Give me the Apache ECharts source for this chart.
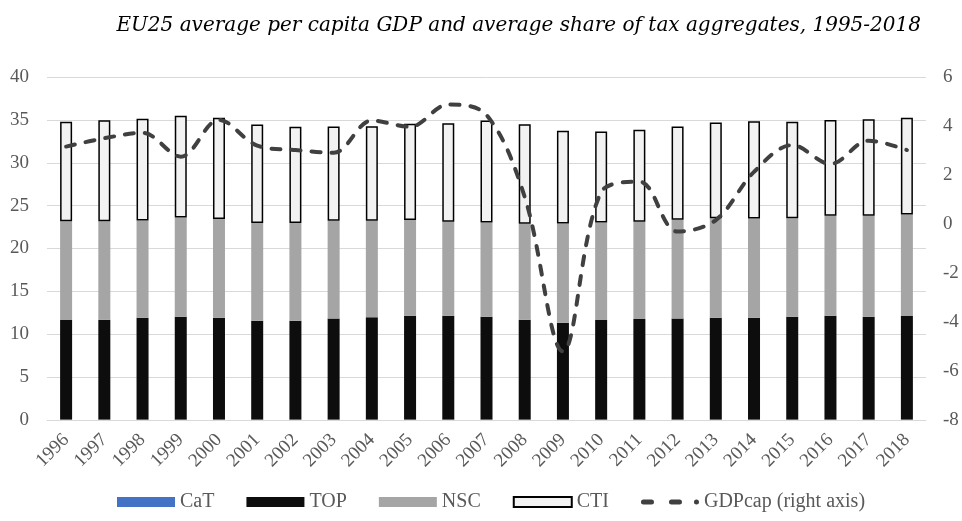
<!DOCTYPE html>
<html>
<head>
<meta charset="utf-8">
<script src="https://cdn.jsdelivr.net/npm/echarts@6/dist/echarts.min.js"></script>
<style>html,body{margin:0;padding:0;background:#fff}#c{width:962px;height:521px}</style>
</head>
<body>
<div id="c"></div>
<script>
const years = ['1996','1997','1998','1999','2000','2001','2002','2003','2004','2005','2006','2007','2008','2009','2010','2011','2012','2013','2014','2015','2016','2017','2018'];
const cat = [0.1,0.1,0.1,0.1,0.1,0.1,0.1,0.1,0.1,0.1,0.1,0.1,0.1,0.1,0.1,0.1,0.1,0.1,0.1,0.1,0.1,0.1,0.1];
const top_ = [11.56,11.59,11.82,11.94,11.82,11.47,11.47,11.75,11.87,12.06,12.06,11.94,11.59,11.24,11.56,11.67,11.75,11.82,11.82,11.94,12.06,11.94,12.02];
const nsc = [11.53,11.50,11.35,11.58,11.51,11.39,11.39,11.38,11.26,11.15,10.95,11.00,11.19,11.58,11.38,11.34,11.50,11.62,11.58,11.50,11.65,11.77,11.85];
const cti = [11.58,11.78,11.85,11.85,11.81,11.50,11.23,10.99,11.04,11.23,11.51,11.89,11.62,10.80,10.60,10.73,10.87,11.16,11.35,11.23,11.19,11.27,11.27];
const gdp = [3.16,3.5,3.72,2.75,4.25,3.2,3.02,2.91,4.22,3.97,4.88,4.45,1.1,-5.2,1.3,1.73,-0.31,0.16,2.13,3.22,2.45,3.4,3.02];

const serif = '"Liberation Serif","Times New Roman",serif';
const dashIcon = 'path://M0,0L0.01,0ZM58,10L57.99,10Z' +
  'M2.5,2.5h8a2.5,2.5 0 0 1 0,5h-8a2.5,2.5 0 0 1 0,-5Z' +
  'M30.5,2.5h8a2.5,2.5 0 0 1 0,5h-8a2.5,2.5 0 0 1 0,-5Z' +
  'M55.5,2.5a2.5,2.5 0 0 1 0,5a2.5,2.5 0 0 1 0,-5Z';
const chart = echarts.init(document.getElementById('c'));
chart.setOption({
  animation: false,
  backgroundColor: '#fff',
  title: {
    text: 'EU25 average per capita GDP and average share of tax aggregates, 1995-2018',
    right: 36, top: 11,
    textStyle: {fontFamily: '"DejaVu Serif",serif', fontStyle: 'italic', fontWeight: 'normal', fontSize: 20, color: '#000'}
  },
  legend: {
    bottom: 4, left: 112,
    itemWidth: 58, itemHeight: 10, itemGap: 32,
    textStyle: {fontFamily: serif, fontSize: 20, color: '#595959'},
    data: [
      {name: 'CaT', icon: 'rect'},
      {name: 'TOP', icon: 'rect'},
      {name: 'NSC', icon: 'rect'},
      {name: 'CTI', icon: 'rect'},
      {name: 'GDPcap (right axis)', icon: dashIcon, itemStyle: {color: '#404040', borderWidth: 0}}
    ]
  },
  grid: {left: 47, right: 36, top: 77, bottom: 101},
  xAxis: {
    type: 'category', data: years,
    axisLine: {lineStyle: {color: '#d9d9d9', width: 1}},
    axisTick: {show: false},
    axisLabel: {rotate: 45, fontFamily: serif, fontSize: 19, color: '#595959', margin: 17}
  },
  yAxis: [{
    type: 'value', min: 0, max: 40, interval: 5,
    axisLine: {show: false}, axisTick: {show: false},
    splitLine: {lineStyle: {color: '#d9d9d9', width: 1}},
    axisLabel: {fontFamily: serif, fontSize: 19, color: '#595959', margin: 18}
  },{
    type: 'value', min: -8, max: 6, interval: 2,
    axisLine: {show: false}, axisTick: {show: false},
    splitLine: {show: false},
    axisLabel: {fontFamily: serif, fontSize: 19, color: '#595959', margin: 17}
  }],
  series: [
    {name: 'CaT', type: 'bar', stack: 't', data: cat, barWidth: 12, itemStyle: {color: '#4472c4'}},
    {name: 'TOP', type: 'bar', stack: 't', data: top_, barWidth: 12, itemStyle: {color: '#0d0d0d'}},
    {name: 'NSC', type: 'bar', stack: 't', data: nsc, barWidth: 12, itemStyle: {color: '#a5a5a5'}},
    {name: 'CTI', type: 'bar', stack: 't', data: cti, barWidth: 12, itemStyle: {color: '#f2f2f2', borderColor: '#000', borderWidth: 1.5}},
    {name: 'GDPcap (right axis)', type: 'line', yAxisIndex: 1, data: gdp, smooth: 0.35,
      symbol: 'none', z: 5,
      itemStyle: {color: '#404040'},
      lineStyle: {color: '#404040', width: 4, type: [9, 11], cap: 'round'}}
  ]
});
</script>
</body>
</html>
